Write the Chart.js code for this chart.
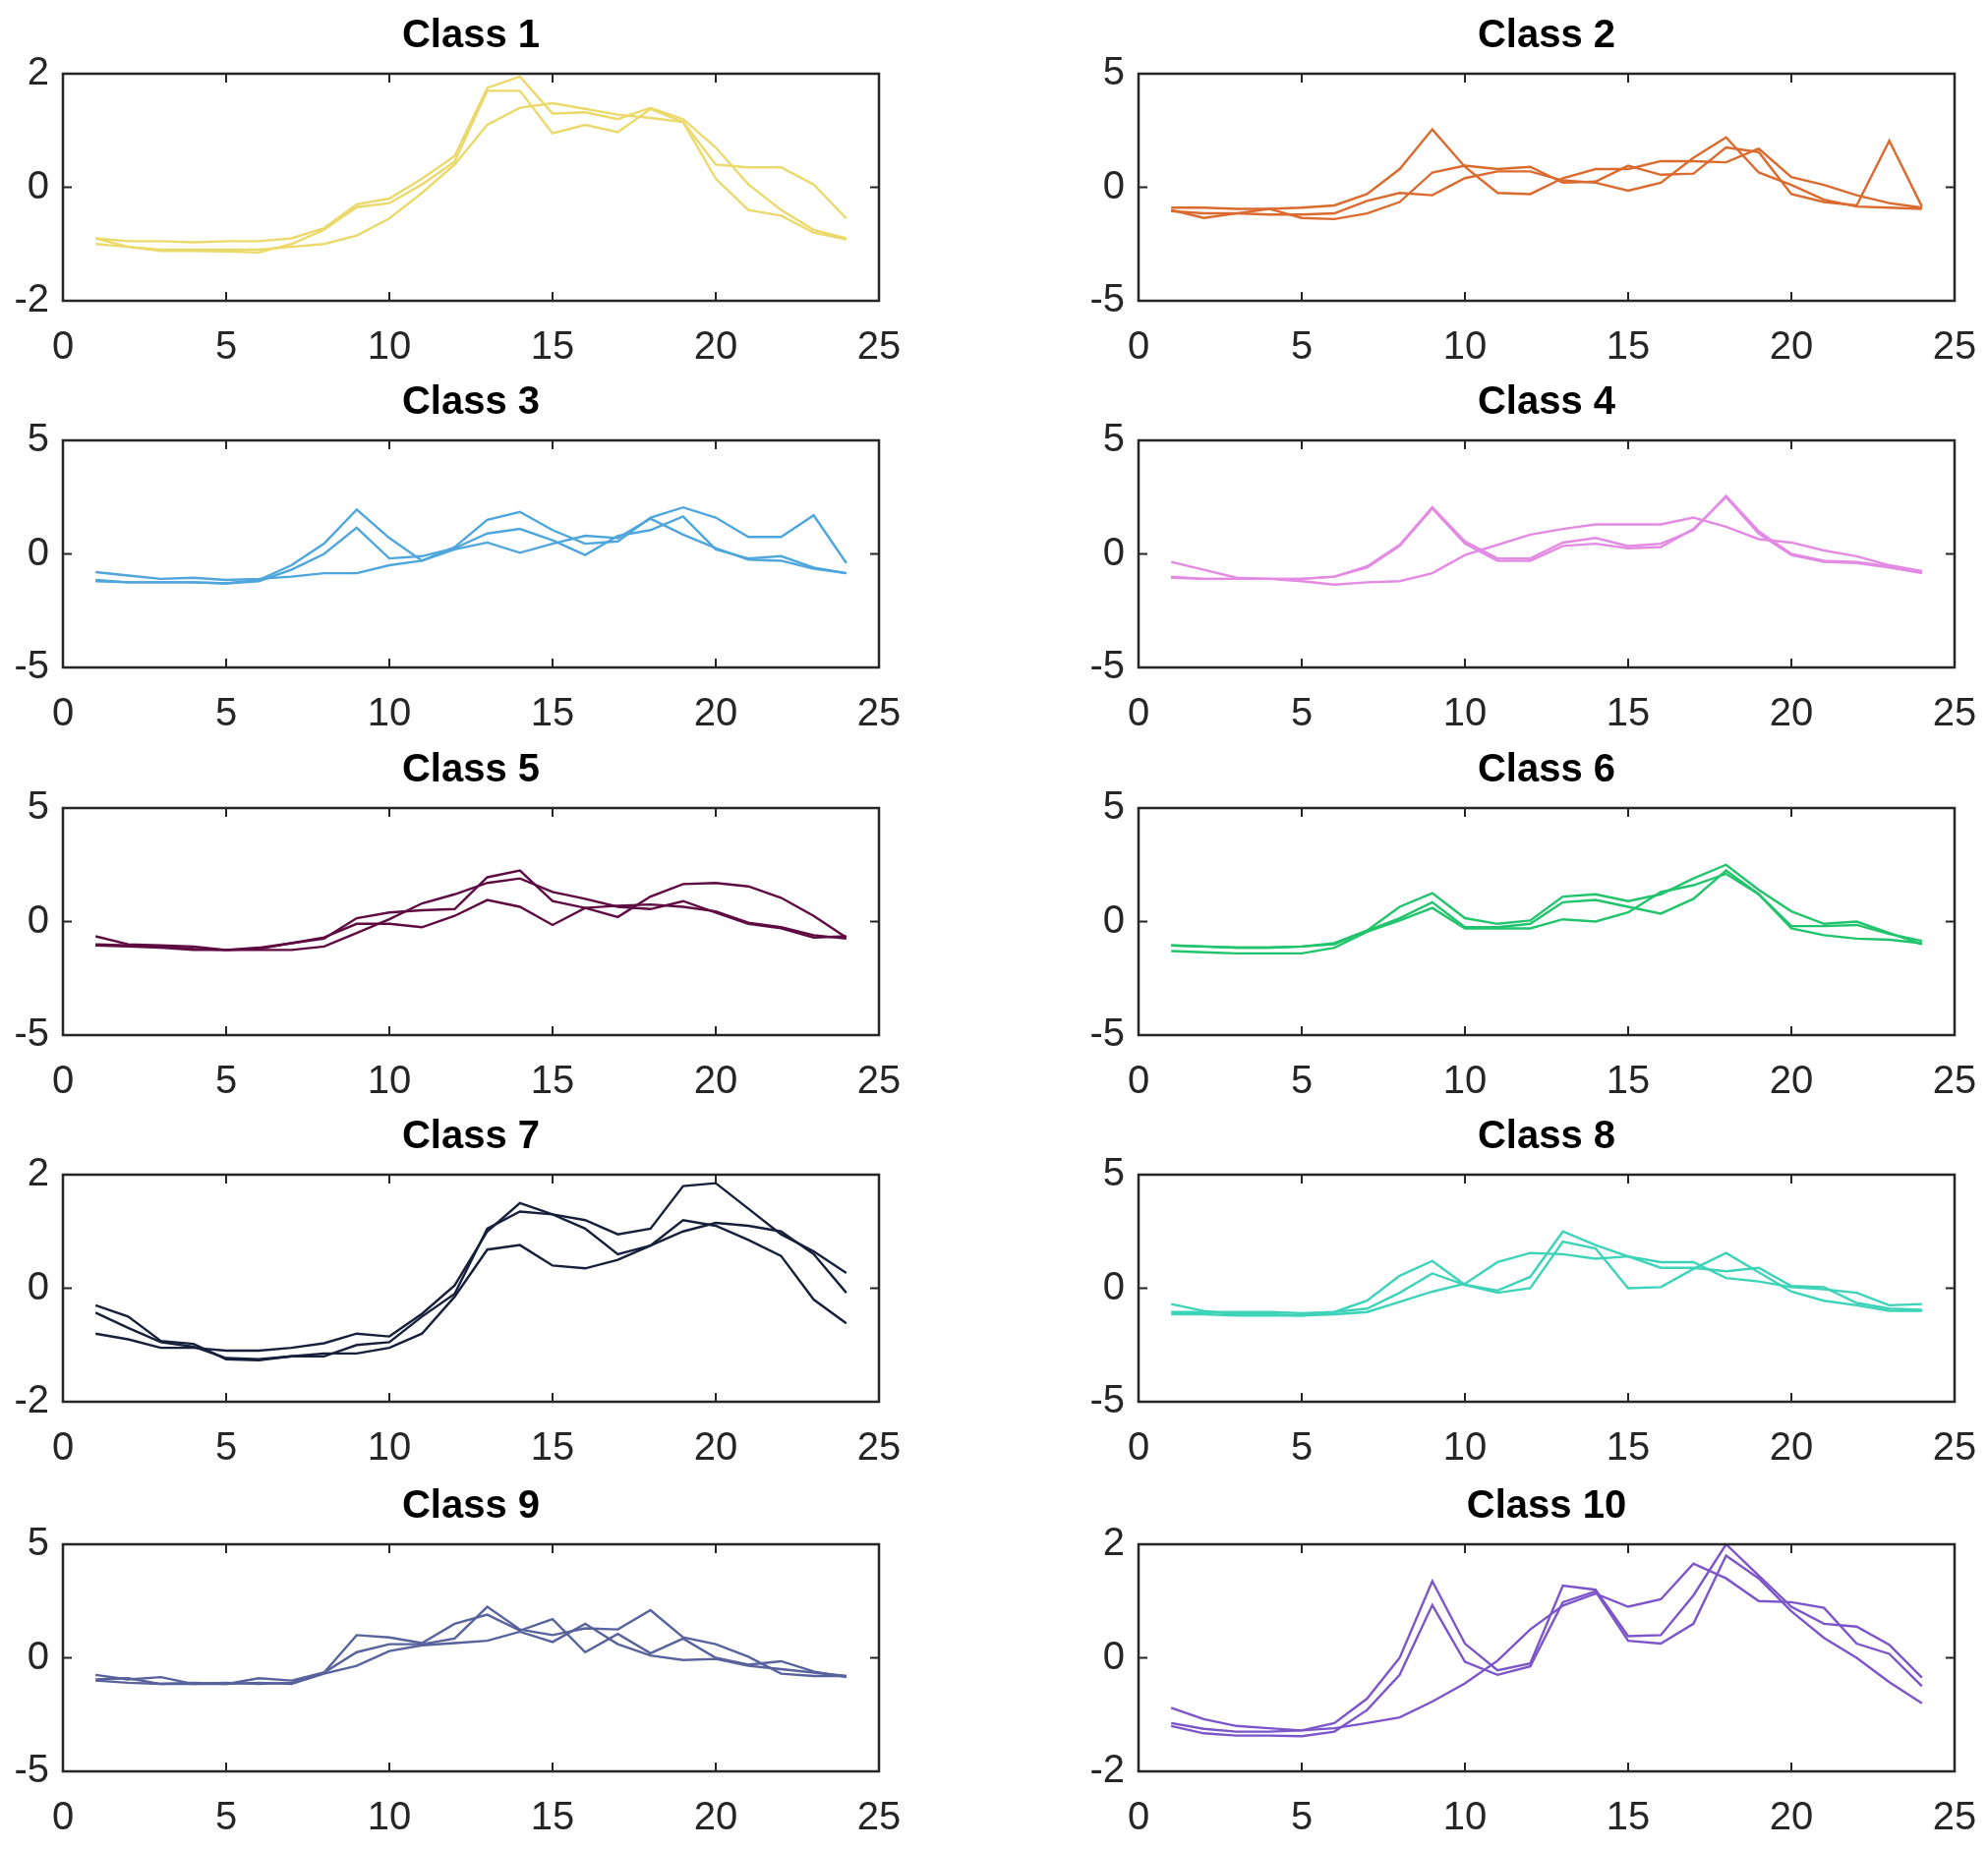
<!DOCTYPE html>
<html>
<head>
<meta charset="utf-8">
<script src="https://cdn.jsdelivr.net/npm/chart.js@4.4.0/dist/chart.umd.min.js"></script>
<style>
  body { margin: 0; background: #fff; width: 2022px; height: 1882px; position: relative; overflow: hidden; }
  .panel { position: absolute; }
</style>
</head>
<body>
<div id="wrap"></div>
<script>
// x positions of each sample
const hours = [1,2,3,4,5,6,7,8,9,10,11,12,13,14,15,16,17,18,19,20,21,22,23,24];

const titles = ['Class 1','Class 2','Class 3','Class 4','Class 5','Class 6','Class 7','Class 8','Class 9','Class 10'];
const colors = ['#ebd96b','#da6a2e','#4fa6dc','#e38be3','#5e0b42','#21c46c','#16203a','#3dd3b9','#58629b','#7c55c9'];
const yLimits = [2,5,5,5,5,5,2,5,5,2];

const class1 = [
  [-1.0,-1.05,-1.1,-1.1,-1.1,-1.1,-1.05,-1.0,-0.85,-0.55,-0.1,0.4,1.1,1.4,1.48,1.38,1.28,1.22,1.15,0.4,0.35,0.35,0.05,-0.55],
  [-0.9,-0.95,-0.95,-0.97,-0.95,-0.95,-0.9,-0.72,-0.3,-0.2,0.15,0.55,1.75,1.95,1.3,1.32,1.2,1.4,1.2,0.7,0.05,-0.4,-0.75,-0.9],
  [-0.9,-1.05,-1.12,-1.12,-1.13,-1.15,-1.0,-0.75,-0.35,-0.28,0.05,0.45,1.7,1.7,0.95,1.1,0.97,1.38,1.15,0.15,-0.4,-0.5,-0.8,-0.92]
];
const class2 = [
  [-0.9,-0.9,-0.95,-0.95,-0.9,-0.8,-0.3,0.8,2.55,0.9,-0.25,-0.3,0.4,0.8,0.8,1.15,1.15,1.1,1.7,0.45,0.1,-0.35,-0.7,-0.9],
  [-1.0,-1.35,-1.15,-0.95,-1.35,-1.4,-1.15,-0.65,0.65,0.95,0.8,0.9,0.2,0.25,0.95,0.55,0.6,1.75,1.55,-0.3,-0.65,-0.8,2.05,-0.85],
  [-1.05,-1.15,-1.15,-1.2,-1.2,-1.15,-0.6,-0.25,-0.35,0.4,0.7,0.7,0.3,0.2,-0.15,0.2,1.3,2.2,0.65,0.1,-0.55,-0.85,-0.9,-0.95]
];
const class3 = [
  [-1.15,-1.25,-1.25,-1.25,-1.3,-1.15,-0.5,0.45,1.95,0.7,-0.3,0.3,1.5,1.85,1.05,0.45,0.55,1.6,2.05,1.6,0.75,0.75,1.7,-0.4],
  [-1.2,-1.25,-1.25,-1.25,-1.3,-1.2,-0.7,0.0,1.15,-0.2,-0.1,0.25,0.9,1.1,0.6,-0.05,0.8,1.05,1.65,0.2,-0.2,-0.1,-0.6,-0.85],
  [-0.8,-0.95,-1.1,-1.05,-1.15,-1.1,-1.0,-0.85,-0.85,-0.5,-0.3,0.2,0.5,0.05,0.45,0.8,0.7,1.55,0.85,0.25,-0.25,-0.3,-0.65,-0.85]
];
const class4 = [
  [-1.05,-1.1,-1.1,-1.1,-1.1,-1.0,-0.55,0.4,2.05,0.55,-0.2,-0.2,0.5,0.7,0.35,0.45,1.05,2.55,1.0,0.0,-0.3,-0.35,-0.55,-0.8],
  [-1.0,-1.1,-1.1,-1.1,-1.1,-1.0,-0.6,0.35,2.0,0.45,-0.3,-0.3,0.35,0.45,0.25,0.3,1.1,2.5,0.9,-0.05,-0.35,-0.4,-0.6,-0.85],
  [-0.35,-0.7,-1.05,-1.1,-1.2,-1.35,-1.25,-1.2,-0.85,-0.05,0.4,0.85,1.1,1.3,1.3,1.3,1.6,1.2,0.65,0.5,0.15,-0.1,-0.5,-0.75]
];
const class5 = [
  [-0.65,-1.0,-1.05,-1.1,-1.25,-1.2,-0.95,-0.75,0.15,0.4,0.5,0.55,1.95,2.25,0.9,0.6,0.2,1.1,1.65,1.7,1.55,1.05,0.25,-0.7],
  [-1.05,-1.1,-1.15,-1.25,-1.25,-1.15,-0.95,-0.7,-0.1,-0.1,-0.25,0.25,0.95,0.65,-0.15,0.6,0.7,0.75,0.65,0.45,-0.05,-0.25,-0.6,-0.75],
  [-1.0,-1.05,-1.1,-1.2,-1.25,-1.25,-1.25,-1.1,-0.5,0.1,0.8,1.2,1.7,1.9,1.3,1.0,0.65,0.55,0.9,0.4,-0.1,-0.3,-0.7,-0.65]
];
const class6 = [
  [-1.05,-1.1,-1.15,-1.15,-1.1,-0.95,-0.4,0.65,1.25,0.15,-0.1,0.05,1.1,1.2,0.9,1.2,1.9,2.5,1.4,0.45,-0.1,0.0,-0.5,-1.0],
  [-1.05,-1.1,-1.15,-1.15,-1.1,-1.0,-0.4,0.15,0.85,-0.25,-0.25,-0.1,0.85,0.95,0.65,0.35,1.0,2.25,1.2,-0.2,-0.2,-0.15,-0.55,-0.85],
  [-1.3,-1.35,-1.4,-1.4,-1.4,-1.15,-0.45,0.05,0.6,-0.3,-0.3,-0.3,0.1,0.0,0.4,1.3,1.6,2.1,1.2,-0.3,-0.6,-0.75,-0.8,-0.95]
];
const class7 = [
  [-0.8,-0.9,-1.05,-1.05,-1.1,-1.1,-1.05,-0.97,-0.8,-0.85,-0.45,0.05,1.0,1.5,1.3,1.2,0.95,1.05,1.8,1.85,1.4,0.95,0.65,0.27],
  [-0.3,-0.5,-0.93,-0.98,-1.25,-1.27,-1.2,-1.2,-1.0,-0.95,-0.5,-0.1,1.05,1.35,1.3,1.05,0.6,0.75,1.0,1.15,1.1,1.0,0.6,-0.08],
  [-0.43,-0.7,-0.95,-1.03,-1.23,-1.25,-1.2,-1.15,-1.15,-1.05,-0.8,-0.15,0.68,0.76,0.4,0.35,0.5,0.75,1.2,1.1,0.85,0.57,-0.2,-0.62]
];
const class8 = [
  [-1.05,-1.05,-1.05,-1.05,-1.1,-1.05,-0.9,-0.2,0.65,0.15,-0.1,0.5,2.5,1.9,1.4,0.9,0.9,0.75,0.9,0.1,0.05,-0.65,-0.9,-0.95],
  [-0.7,-1.0,-1.15,-1.15,-1.2,-1.05,-0.55,0.55,1.2,0.15,-0.2,0.0,2.05,1.75,0.0,0.05,0.85,1.55,0.7,-0.15,-0.55,-0.75,-1.0,-1.0],
  [-1.15,-1.15,-1.2,-1.2,-1.2,-1.15,-1.05,-0.6,-0.15,0.2,1.15,1.55,1.5,1.3,1.4,1.15,1.15,0.45,0.3,0.05,-0.05,-0.2,-0.75,-0.7]
];
const class9 = [
  [-0.95,-0.9,-1.15,-1.1,-1.15,-0.9,-1.0,-0.65,0.25,0.6,0.6,0.85,2.25,1.25,1.0,1.3,1.25,2.1,0.9,0.6,0.05,-0.7,-0.8,-0.8],
  [-0.75,-0.95,-0.85,-1.15,-1.1,-1.15,-1.1,-0.65,1.0,0.9,0.65,1.5,1.9,1.2,1.7,0.25,1.05,0.2,0.85,0.0,-0.3,-0.15,-0.6,-0.85],
  [-1.0,-1.1,-1.15,-1.15,-1.15,-1.1,-1.15,-0.7,-0.35,0.3,0.55,0.65,0.75,1.15,0.7,1.5,0.6,0.1,-0.1,-0.05,-0.35,-0.5,-0.65,-0.8]
];
const class10 = [
  [-1.15,-1.25,-1.3,-1.3,-1.28,-1.15,-0.72,0.0,1.35,0.25,-0.22,-0.1,1.27,1.2,0.38,0.4,1.1,2.0,1.45,0.9,0.6,0.55,0.23,-0.35],
  [-1.2,-1.33,-1.37,-1.37,-1.38,-1.3,-0.92,-0.3,0.93,-0.07,-0.3,-0.15,0.98,1.17,0.3,0.25,0.6,1.8,1.4,0.82,0.35,0.0,-0.43,-0.8],
  [-0.88,-1.08,-1.2,-1.24,-1.28,-1.24,-1.15,-1.05,-0.77,-0.45,-0.05,0.5,0.92,1.13,0.9,1.03,1.66,1.4,1.0,0.98,0.88,0.25,0.07,-0.5]
];
const allClasses = [class1,class2,class3,class4,class5,class6,class7,class8,class9,class10];

// plot-area placement
const colLeft = [64, 1158];
const rowTop = [75, 448, 822, 1195, 1571];
const plotW = 830, plotH = 231;
const padL = 64, padT = 75, padR = 70, padB = 84;
const tickFont = { size: 40, family: '"Liberation Sans", Arial, sans-serif' };

const boxPlugin = {
  id: 'box',
  afterDraw(chart, args, opts) {
    const { ctx, chartArea: a, scales } = chart;
    ctx.save();
    ctx.strokeStyle = '#262626';
    ctx.lineWidth = 2.5;
    ctx.strokeRect(a.left, a.top, a.right - a.left, a.bottom - a.top);
    ctx.lineWidth = 2;
    const t = 9;
    ctx.beginPath();
    scales.x.ticks.forEach(tk => {
      const px = scales.x.getPixelForValue(tk.value);
      ctx.moveTo(px, a.bottom); ctx.lineTo(px, a.bottom - t);
      ctx.moveTo(px, a.top); ctx.lineTo(px, a.top + t);
    });
    scales.y.ticks.forEach(tk => {
      const py = scales.y.getPixelForValue(tk.value);
      ctx.moveTo(a.left, py); ctx.lineTo(a.left + t, py);
      ctx.moveTo(a.right, py); ctx.lineTo(a.right - t, py);
    });
    ctx.stroke();
    ctx.fillStyle = '#000';
    ctx.font = 'bold 40px "Liberation Sans", Arial, sans-serif';
    ctx.textAlign = 'center';
    ctx.textBaseline = 'middle';
    ctx.fillText(opts.text, (a.left + a.right) / 2, a.top - 38);
    ctx.restore();
  }
};

const wrap = document.getElementById('wrap');
allClasses.forEach((lines, i) => {
  const col = i % 2, row = Math.floor(i / 2);
  const div = document.createElement('div');
  div.className = 'panel';
  div.style.left = (colLeft[col] - padL) + 'px';
  div.style.top = (rowTop[row] - padT) + 'px';
  div.style.width = (padL + plotW + padR) + 'px';
  div.style.height = (padT + plotH + padB) + 'px';
  const canvas = document.createElement('canvas');
  div.appendChild(canvas);
  wrap.appendChild(div);

  const lim = yLimits[i];
  new Chart(canvas.getContext('2d'), {
    type: 'line',
    data: {
      datasets: lines.map(vals => ({
        data: hours.map((h, k) => ({ x: h, y: vals[k] })),
        borderColor: colors[i],
        borderWidth: 2.4,
        pointRadius: 0,
        tension: 0,
        fill: false
      }))
    },
    options: {
      responsive: true,
      maintainAspectRatio: false,
      animation: false,
      layout: { padding: { top: padT, right: padR, left: 0, bottom: 0 } },
      plugins: { legend: { display: false }, tooltip: { enabled: false }, box: { text: titles[i] } },
      scales: {
        x: {
          type: 'linear', min: 0, max: 25,
          ticks: { stepSize: 5, color: '#262626', font: tickFont, padding: 24, maxRotation: 0 },
          grid: { display: false, drawTicks: false },
          border: { display: false },
          afterFit(s) { s.height = padB; }
        },
        y: {
          min: -lim, max: lim,
          ticks: { stepSize: lim, color: '#262626', font: tickFont, padding: 14 },
          grid: { display: false, drawTicks: false },
          border: { display: false },
          afterFit(s) { s.width = padL; }
        }
      }
    },
    plugins: [boxPlugin]
  });
});
</script>
</body>
</html>
